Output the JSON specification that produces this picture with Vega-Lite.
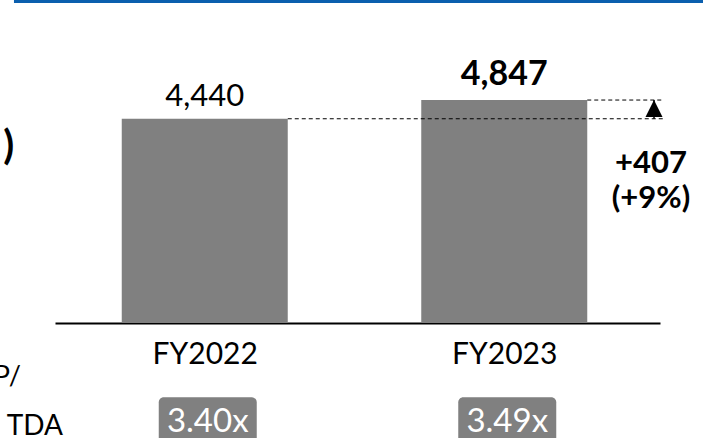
{
  "$schema": "https://vega.github.io/schema/vega-lite/v6.json",
  "width": 605,
  "height": 322,
  "autosize": "none",
  "padding": {"left": 55, "right": 43, "top": 1, "bottom": 115},
  "background": "white",
  "config": {"view": {"stroke": null}, "font": "Lato", "text": {"font": "Lato", "color": "black"}},
  "data": {"values": [
    {"year": 2022, "value": 4440, "label": "4,440", "lev": "3.40x"},
    {"year": 2023, "value": 4847, "label": "4,847", "lev": "3.49x"}
  ]},
  "layer": [
    {
      "mark": {"type": "bar", "color": "#808080", "width": 166},
      "encoding": {
        "x": {"field": "year", "type": "quantitative", "scale": {"domain": [2021.5, 2023.52], "nice": false, "zero": false, "padding": 0},
          "axis": {"values": [2022, 2023], "labelExpr": "'FY' + datum.value", "title": null, "ticks": false, "tickSize": 0, "grid": false,
            "domain": true, "domainColor": "black", "domainWidth": 2, "labelFont": "Lato", "labelFontSize": 30, "labelColor": "black",
            "labelBaseline": "alphabetic", "labelPadding": 40, "labelFlush": false, "labelOverlap": false}},
        "y": {"field": "value", "type": "quantitative", "scale": {"domain": [0, 7000], "nice": false, "padding": 0}, "axis": null}
      }
    },
    {
      "data": {"values": [{}]},
      "mark": {"type": "rule", "color": "#0b5fae", "strokeWidth": 4, "strokeCap": "butt"},
      "encoding": {
        "x": {"datum": 2021.363, "type": "quantitative"},
        "x2": {"datum": 2023.7},
        "y": {"datum": 7000, "type": "quantitative"}
      }
    },
    {
      "mark": {"type": "rule", "color": "black", "strokeWidth": 1, "strokeDash": [4, 3], "xOffset": 83, "x2Offset": 9},
      "encoding": {
        "x": {"field": "year", "type": "quantitative"},
        "x2": {"datum": 2023.5},
        "y": {"field": "value", "type": "quantitative"}
      }
    },
    {
      "data": {"values": [{}]},
      "mark": {"type": "rule", "color": "black", "strokeWidth": 1.5},
      "encoding": {
        "x": {"datum": 2023.5, "type": "quantitative"},
        "y": {"datum": 4440, "type": "quantitative"},
        "y2": {"datum": 4847}
      }
    },
    {
      "data": {"values": [{}]},
      "mark": {"type": "point", "shape": "M0,0L-1,2L1,2Z", "size": 289, "filled": true, "color": "black", "opacity": 1, "strokeWidth": 0},
      "encoding": {
        "x": {"datum": 2023.5, "type": "quantitative"},
        "y": {"datum": 4847, "type": "quantitative"}
      }
    },
    {
      "transform": [{"filter": "datum.year == 2022"}],
      "mark": {"type": "text", "fontSize": 31, "baseline": "alphabetic", "align": "center", "dy": -13},
      "encoding": {
        "x": {"field": "year", "type": "quantitative"},
        "y": {"field": "value", "type": "quantitative"},
        "text": {"field": "label"}
      }
    },
    {
      "transform": [{"filter": "datum.year == 2023"}],
      "mark": {"type": "text", "fontSize": 34, "fontWeight": "bold", "baseline": "alphabetic", "align": "center", "dy": -15},
      "encoding": {
        "x": {"field": "year", "type": "quantitative"},
        "y": {"field": "value", "type": "quantitative"},
        "text": {"field": "label"}
      }
    },
    {
      "data": {"values": [{"change": "+407", "pct": "(+9%)"}]},
      "transform": [{"calculate": "[datum.change, datum.pct]", "as": "lines"}],
      "mark": {"type": "text", "fontSize": 31, "fontWeight": "bold", "baseline": "alphabetic", "align": "center", "lineHeight": 35},
      "encoding": {
        "x": {"datum": 2023.49, "type": "quantitative"},
        "y": {"datum": 3254, "type": "quantitative"},
        "text": {"field": "lines"}
      }
    },
    {
      "mark": {"type": "rect", "color": "#808080", "cornerRadius": 5, "xOffset": -46, "x2Offset": 52},
      "encoding": {
        "x": {"field": "year", "type": "quantitative"},
        "x2": {"field": "year"},
        "y": {"datum": -1615, "type": "quantitative"},
        "y2": {"datum": -2700}
      }
    },
    {
      "mark": {"type": "text", "fontSize": 33, "color": "white", "baseline": "alphabetic", "align": "center", "dx": 3},
      "encoding": {
        "x": {"field": "year", "type": "quantitative"},
        "y": {"datum": -2370, "type": "quantitative"},
        "text": {"field": "lev"}
      }
    },
    {
      "data": {"values": [{"t": ")"}]},
      "mark": {"type": "text", "fontSize": 40, "fontWeight": "bold", "baseline": "alphabetic", "align": "right"},
      "encoding": {
        "x": {"datum": 2021.364, "type": "quantitative"},
        "y": {"datum": 3560, "type": "quantitative"},
        "text": {"field": "t"}
      }
    },
    {
      "data": {"values": [{"t": "P/"}]},
      "mark": {"type": "text", "fontSize": 27, "baseline": "alphabetic", "align": "right"},
      "encoding": {
        "x": {"datum": 2021.386, "type": "quantitative"},
        "y": {"datum": -1348, "type": "quantitative"},
        "text": {"field": "t"}
      }
    },
    {
      "data": {"values": [{"t": "TDA"}]},
      "mark": {"type": "text", "fontSize": 28, "baseline": "alphabetic", "align": "right"},
      "encoding": {
        "x": {"datum": 2021.5267, "type": "quantitative"},
        "y": {"datum": -2430, "type": "quantitative"},
        "text": {"field": "t"}
      }
    }
  ]
}
